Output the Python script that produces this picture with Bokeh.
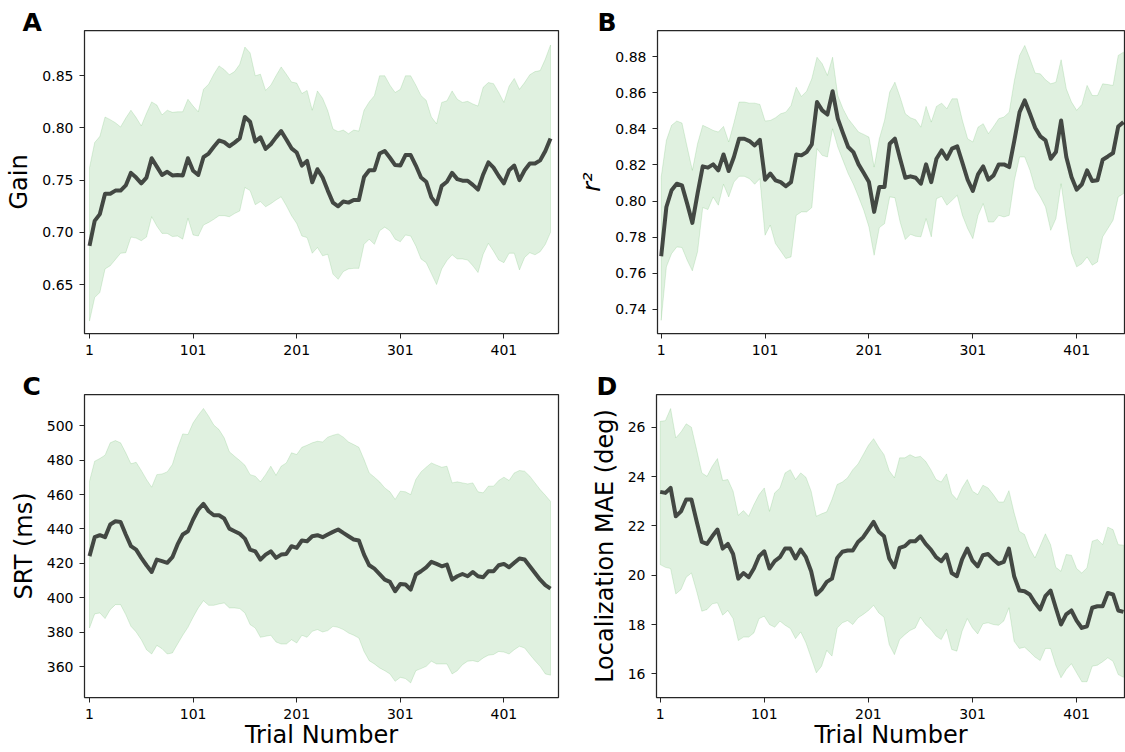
from bokeh.plotting import figure
from bokeh.models import Range1d, FixedTicker, PrintfTickFormatter, Title
from bokeh.layouts import row, column
from bokeh.embed import file_html
from bokeh.resources import INLINE

trials = list(range(1, 450, 5))
x_ticks = [1, 101, 201, 301, 401]
x_label = "Trial Number"

gain_mean = [0.687, 0.711, 0.7175, 0.737, 0.737, 0.740, 0.740, 0.745, 0.757, 0.7525,
             0.747, 0.7525, 0.771, 0.763, 0.755, 0.758, 0.7545, 0.755, 0.7545, 0.771,
             0.759, 0.755, 0.772, 0.7755, 0.782, 0.788, 0.7865, 0.7825, 0.786, 0.790,
             0.8105, 0.806, 0.787, 0.791, 0.780, 0.7845, 0.791, 0.797, 0.789, 0.7805,
             0.7765, 0.764, 0.7685, 0.748, 0.7605, 0.7525, 0.740, 0.7285, 0.725, 0.7295,
             0.7285, 0.731, 0.731, 0.753, 0.7595, 0.7595, 0.7755, 0.778, 0.7715, 0.7645,
             0.764, 0.774, 0.774, 0.764, 0.7525, 0.7485, 0.7335, 0.727, 0.7445, 0.7485,
             0.757, 0.751, 0.7495, 0.7495, 0.7455, 0.741, 0.7555, 0.767, 0.762, 0.754,
             0.747, 0.7595, 0.764, 0.750, 0.7595, 0.766, 0.766, 0.769, 0.778, 0.790]
gain_upper = [0.762, 0.786, 0.792, 0.8105, 0.808, 0.805, 0.801, 0.8095, 0.817, 0.810,
              0.802, 0.814, 0.825, 0.822, 0.8125, 0.817, 0.815, 0.8155, 0.8155, 0.8275,
              0.821, 0.8155, 0.837, 0.842, 0.8515, 0.8595, 0.856, 0.851, 0.854, 0.861,
              0.8775, 0.872, 0.850, 0.8515, 0.836, 0.841, 0.850, 0.8585, 0.8515, 0.844,
              0.843, 0.833, 0.836, 0.817, 0.8355, 0.8285, 0.8165, 0.799, 0.7965, 0.798,
              0.7945, 0.798, 0.797, 0.817, 0.825, 0.831, 0.850, 0.850, 0.841, 0.834,
              0.837, 0.850, 0.850, 0.841, 0.831, 0.8265, 0.8105, 0.804, 0.8245, 0.826,
              0.8355, 0.8275, 0.8245, 0.8255, 0.823, 0.821, 0.839, 0.8435, 0.8425, 0.834,
              0.8245, 0.840, 0.8475, 0.837, 0.8435, 0.851, 0.854, 0.855, 0.866, 0.8795]
gain_lower = [0.615, 0.6375, 0.6425, 0.665, 0.668, 0.674, 0.680, 0.6805, 0.6955, 0.6945,
              0.692, 0.6955, 0.715, 0.706, 0.699, 0.699, 0.696, 0.6965, 0.6935, 0.7135,
              0.6975, 0.6965, 0.707, 0.7095, 0.7125, 0.716, 0.716, 0.715, 0.718, 0.7205,
              0.743, 0.740, 0.7265, 0.7295, 0.7245, 0.7275, 0.731, 0.734, 0.7255, 0.716,
              0.7085, 0.6965, 0.695, 0.680, 0.6855, 0.6775, 0.679, 0.660, 0.655, 0.6625,
              0.665, 0.6655, 0.6655, 0.6885, 0.6935, 0.6885, 0.7015, 0.705, 0.7015, 0.6935,
              0.691, 0.6975, 0.6965, 0.687, 0.6745, 0.671, 0.6605, 0.650, 0.665, 0.673,
              0.6785, 0.6745, 0.6745, 0.6735, 0.668, 0.6615, 0.679, 0.6895, 0.682, 0.6735,
              0.671, 0.680, 0.680, 0.664, 0.676, 0.6805, 0.6785, 0.6815, 0.6885, 0.700]

r2_mean = [0.7695, 0.7967, 0.806, 0.8096, 0.8087, 0.7986, 0.7879, 0.8041, 0.8192, 0.8185,
           0.8203, 0.817, 0.8258, 0.8166, 0.8244, 0.8345, 0.8345, 0.8332, 0.8308, 0.8339,
           0.8118, 0.8152, 0.8115, 0.8105, 0.8082, 0.8105, 0.8258, 0.8253, 0.8271, 0.8314,
           0.8548, 0.8502, 0.8479, 0.8608, 0.8456, 0.8376, 0.8299, 0.8271, 0.8203, 0.8155,
           0.8105, 0.794, 0.8078, 0.8078, 0.8317, 0.8345, 0.8234, 0.8129, 0.8137, 0.8129,
           0.8096, 0.8203, 0.8105, 0.8234, 0.828, 0.8234, 0.829, 0.8303, 0.8211, 0.8118,
           0.8056, 0.8148, 0.8192, 0.8118, 0.8142, 0.8203, 0.8203, 0.8188, 0.8336, 0.8492,
           0.8557, 0.8483, 0.8406, 0.8358, 0.8336, 0.8234, 0.8271, 0.8446, 0.8244, 0.8133,
           0.8063, 0.8093, 0.817, 0.8111, 0.8115, 0.8229, 0.8247, 0.8266, 0.8413, 0.8437]
r2_upper = [0.8133, 0.8336, 0.8419, 0.8443, 0.8432, 0.8299, 0.817, 0.8317, 0.8419, 0.8406,
            0.8391, 0.8382, 0.8413, 0.8327, 0.8432, 0.8548, 0.8548, 0.8542, 0.8542, 0.8535,
            0.8443, 0.8446, 0.8461, 0.8483, 0.8492, 0.8529, 0.863, 0.8579, 0.8608, 0.8677,
            0.8796, 0.876, 0.8695, 0.8796, 0.8584, 0.8511, 0.8456, 0.8419, 0.8382, 0.8369,
            0.8354, 0.8188, 0.8345, 0.8446, 0.8603, 0.8658, 0.8575, 0.8483, 0.8461, 0.845,
            0.8409, 0.8524, 0.8437, 0.8524, 0.8542, 0.8511, 0.8566, 0.8566, 0.8446, 0.8345,
            0.8327, 0.8409, 0.8428, 0.8373, 0.8413, 0.8456, 0.8465, 0.8492, 0.8667, 0.8806,
            0.8861, 0.8787, 0.8708, 0.8704, 0.8671, 0.8649, 0.8658, 0.8782, 0.8621, 0.8548,
            0.8502, 0.8535, 0.864, 0.8584, 0.8584, 0.8649, 0.8645, 0.864, 0.8806, 0.8824]
r2_lower = [0.734, 0.7636, 0.7709, 0.7746, 0.7743, 0.7673, 0.7614, 0.7719, 0.7964, 0.7953,
            0.8023, 0.7977, 0.8093, 0.8023, 0.8105, 0.8137, 0.8137, 0.8124, 0.8093, 0.8124,
            0.7811, 0.7867, 0.7765, 0.7724, 0.7682, 0.7691, 0.7921, 0.794, 0.794, 0.7964,
            0.829, 0.8253, 0.8244, 0.84, 0.8299, 0.8225, 0.8152, 0.8093, 0.8023, 0.7949,
            0.7857, 0.77, 0.7853, 0.7875, 0.8023, 0.8019, 0.7884, 0.7787, 0.7816, 0.7805,
            0.7802, 0.7903, 0.7802, 0.8013, 0.8026, 0.7977, 0.8004, 0.8032, 0.7921, 0.7848,
            0.7792, 0.7921, 0.7986, 0.7884, 0.7884, 0.7921, 0.7912, 0.7921, 0.8115, 0.8244,
            0.8244, 0.817, 0.8069, 0.8023, 0.7967, 0.7838, 0.7903, 0.8096, 0.7894, 0.771,
            0.7636, 0.7654, 0.7691, 0.7645, 0.7663, 0.7802, 0.7848, 0.7894, 0.8023, 0.8041]

srt_mean = [424.2, 435.2, 436.4, 435.2, 442.6, 444.5, 444.1, 436.8, 430.0, 428.0,
            423.2, 418.9, 415.0, 422.2, 421.3, 420.3, 423.6, 431.0, 436.8, 438.7,
            445.5, 451.3, 454.6, 450.3, 448.0, 448.0, 446.1, 440.2, 438.7, 437.2,
            434.4, 428.0, 427.0, 422.2, 425.1, 427.0, 423.2, 425.1, 425.5, 430.0,
            429.0, 433.3, 432.9, 435.8, 436.4, 435.2, 436.8, 438.3, 439.7, 437.7,
            435.8, 433.9, 433.3, 425.1, 418.9, 416.9, 413.8, 410.5, 409.2, 403.8,
            408.0, 407.7, 404.8, 413.5, 415.4, 417.7, 420.9, 419.7, 418.3, 419.3,
            410.5, 412.5, 413.8, 412.5, 415.0, 412.5, 411.9, 415.4, 415.4, 418.9,
            419.7, 417.7, 420.3, 422.8, 422.2, 418.3, 414.4, 410.5, 407.3, 405.3]
srt_upper = [467.8, 479.4, 481.0, 482.9, 490.1, 491.4, 490.1, 484.3, 477.9, 478.8,
             474.0, 468.8, 464.3, 471.6, 472.0, 473.2, 477.5, 487.2, 495.3, 494.9,
             501.7, 506.2, 510.1, 505.6, 500.4, 497.8, 493.0, 484.9, 482.3, 479.8,
             477.1, 471.6, 470.7, 467.4, 471.6, 476.5, 471.2, 476.5, 478.4, 484.3,
             483.3, 487.5, 488.7, 490.1, 491.0, 490.6, 493.4, 494.5, 495.3, 493.4,
             490.6, 489.1, 487.5, 480.4, 472.6, 470.1, 467.4, 463.9, 461.6, 457.2,
             462.0, 461.6, 460.0, 468.8, 473.2, 475.9, 478.4, 477.1, 475.9, 476.5,
             466.8, 467.4, 466.8, 466.2, 466.8, 461.6, 461.0, 464.9, 464.9, 468.2,
             470.1, 468.2, 472.6, 474.0, 473.6, 470.7, 466.8, 462.9, 459.6, 456.1]
srt_lower = [382.4, 390.6, 391.2, 387.9, 393.1, 396.0, 396.0, 390.2, 383.4, 380.1,
             375.6, 369.8, 367.3, 372.3, 370.4, 367.3, 367.9, 373.1, 378.2, 382.8,
             388.7, 394.1, 398.3, 395.6, 395.6, 396.4, 397.0, 394.1, 394.1, 393.7,
             391.2, 384.4, 382.4, 377.0, 377.6, 378.2, 374.3, 373.1, 373.1, 375.6,
             373.7, 378.2, 377.0, 380.5, 381.5, 380.1, 380.9, 383.4, 382.8, 381.5,
             379.5, 378.2, 376.6, 368.8, 363.4, 361.5, 359.2, 357.6, 355.7, 351.4,
             353.7, 353.0, 350.5, 357.6, 358.8, 360.1, 363.1, 361.5, 361.5, 361.5,
             355.7, 357.6, 361.1, 363.1, 363.4, 362.7, 365.0, 366.6, 367.0, 368.8,
             368.4, 367.3, 369.8, 371.8, 370.8, 367.0, 363.4, 360.1, 355.7, 355.0]

mae_mean = [23.38, 23.34, 23.54, 22.39, 22.59, 23.07, 23.07, 22.19, 21.35, 21.27,
            21.58, 21.85, 21.08, 21.27, 20.86, 19.86, 20.09, 19.92, 20.27, 20.77,
            20.97, 20.27, 20.57, 20.73, 21.08, 21.08, 20.68, 21.04, 20.73, 20.16,
            19.22, 19.42, 19.73, 19.86, 20.70, 20.95, 21.00, 21.00, 21.35, 21.54,
            21.85, 22.16, 21.76, 21.58, 20.68, 20.32, 21.11, 21.18, 21.38, 21.38,
            21.58, 21.27, 21.04, 20.73, 20.57, 20.84, 20.09, 19.96, 20.64, 21.08,
            20.59, 20.36, 20.81, 20.86, 20.64, 20.46, 20.54, 21.08, 19.96, 19.38,
            19.35, 19.22, 18.88, 18.61, 19.15, 19.38, 18.68, 18.00, 18.41, 18.57,
            18.16, 17.86, 17.93, 18.68, 18.74, 18.74, 19.28, 19.22, 18.57, 18.51]
mae_upper = [26.24, 26.27, 26.76, 25.57, 25.81, 26.14, 26.00, 25.09, 24.15, 24.01,
             24.42, 24.73, 23.84, 23.88, 23.41, 22.43, 22.62, 22.39, 22.86, 23.27,
             23.54, 22.59, 23.34, 23.54, 24.15, 24.28, 23.88, 24.15, 23.97, 23.41,
             22.39, 22.49, 22.57, 23.07, 23.68, 23.78, 23.95, 24.28, 24.51, 24.89,
             25.27, 25.54, 25.19, 24.89, 24.24, 23.95, 24.76, 24.76, 24.89, 24.78,
             24.82, 24.62, 24.28, 23.88, 23.78, 24.11, 23.30, 23.07, 23.54, 23.88,
             23.41, 23.27, 23.65, 23.54, 23.27, 22.97, 22.97, 23.43, 22.53, 21.78,
             21.65, 21.08, 20.70, 21.18, 21.68, 21.24, 20.32, 20.16, 20.84, 20.81,
             20.27, 20.09, 20.30, 21.38, 21.45, 21.24, 21.95, 21.85, 21.24, 21.22]
mae_lower = [20.43, 20.32, 20.27, 19.24, 19.42, 19.92, 20.09, 19.35, 18.54, 18.61,
             18.84, 18.88, 18.38, 18.57, 18.24, 17.35, 17.49, 17.49, 17.66, 18.24,
             18.34, 18.00, 17.89, 18.14, 17.97, 17.84, 17.43, 17.70, 17.26, 16.65,
             16.04, 16.31, 16.95, 16.72, 17.86, 18.07, 18.16, 18.00, 18.27, 18.41,
             18.57, 18.78, 18.47, 18.30, 17.19, 16.78, 17.39, 17.59, 17.76, 17.86,
             18.30, 18.00, 17.80, 17.53, 17.39, 17.80, 16.99, 16.92, 17.73, 18.24,
             17.86, 17.62, 18.03, 18.07, 18.00, 17.97, 18.14, 18.68, 17.32, 17.03,
             17.08, 16.89, 16.68, 16.54, 17.03, 17.03, 16.35, 15.84, 16.18, 16.41,
             16.04, 15.68, 15.68, 16.31, 16.35, 16.49, 16.65, 16.51, 15.97, 15.86]

gain_ticks = [0.65, 0.70, 0.75, 0.80, 0.85]
r2_ticks = [0.74, 0.76, 0.78, 0.80, 0.82, 0.84, 0.86, 0.88]
srt_ticks = [360, 380, 400, 420, 440, 460, 480, 500]
mae_ticks = [16, 18, 20, 22, 24, 26]

FONT = "DejaVu Sans"
DARK = "#262626"
BAND = "#2ca02c"


def panel(width, height, bl, br, bt, bb, xr, yr, yticks, yfmt, ylabel, letter,
          mean, upper, lower, ylabel_style="normal", letter_dx=-62, xlabel=None):
    title = Title(text=letter, align="left", offset=letter_dx, standoff=-12,
                  vertical_align="bottom", text_font="DejaVu Sans",
                  text_font_size="25px", text_font_style="bold", text_color="black")
    p = figure(width=width, height=height, x_range=Range1d(*xr), y_range=Range1d(*yr),
               output_backend="svg", toolbar_location=None, title=title,
               min_border_left=bl, min_border_right=br, min_border_top=bt,
               min_border_bottom=bb)
    p.grid.visible = False
    p.outline_line_color = DARK
    p.outline_line_width = 1.25
    p.outline_line_alpha = 1.0
    p.background_fill_color = "white"
    p.border_fill_color = "white"

    xs = trials + trials[::-1]
    ys = upper + lower[::-1]
    p.patch(xs, ys, fill_color=BAND, fill_alpha=0.15, line_color=BAND,
            line_alpha=0.15, line_width=1)
    p.line(trials, mean, line_color="black", line_alpha=0.7, line_width=4,
           line_join="round")

    for ax in (p.xaxis[0], p.yaxis[0]):
        ax.axis_line_color = None
        ax.major_tick_line_color = DARK
        ax.major_tick_line_width = 1
        ax.major_tick_in = 0
        ax.major_tick_out = 5
        ax.minor_tick_line_color = None
        ax.major_label_text_font = FONT
        ax.major_label_text_font_size = "14px"
        ax.major_label_text_color = "black"
        ax.major_label_standoff = 6
        ax.axis_label_text_font = FONT
        ax.axis_label_text_font_size = "24px"
        ax.axis_label_text_color = "black"
        ax.axis_label_text_font_style = "normal"
    p.xaxis.ticker = FixedTicker(ticks=x_ticks)
    p.yaxis.ticker = FixedTicker(ticks=yticks)
    p.yaxis.formatter = PrintfTickFormatter(format=yfmt)
    p.yaxis.axis_label = ylabel
    p.yaxis.axis_label_text_font_style = ylabel_style
    p.yaxis.axis_label_standoff = 6
    if xlabel is not None:
        p.xaxis.axis_label = xlabel
        p.xaxis.axis_label_standoff = -1
    return p


XR_L = (-3.83, 453.7)
XR_R = (-2.55, 447.98)

pA = panel(575, 370, 84, 17, 30, 37, XR_L, (0.6031, 0.8934), gain_ticks, "%.2f",
           "Gain", "A", gain_mean, gain_upper, gain_lower)
pB = panel(550, 370, 81, 0, 30, 37, XR_R, (0.7267, 0.8944), r2_ticks, "%.2f",
           "r²", "B", r2_mean, r2_upper, r2_lower, ylabel_style="italic", letter_dx=-60)
pC = panel(575, 382, 84, 17, 24, 55, XR_L, (342.0, 518.2), srt_ticks, "%d",
           "SRT (ms)", "C", srt_mean, srt_upper, srt_lower, xlabel=x_label)
pD = panel(550, 382, 81, 0, 24, 55, XR_R, (15.04, 27.33), mae_ticks, "%d",
           "Localization MAE (deg)", "D", mae_mean, mae_upper, mae_lower,
           letter_dx=-60, xlabel=x_label)

layout = column(row(pA, pB), row(pC, pD))
open("out.html", "w").write(file_html(layout, INLINE))
